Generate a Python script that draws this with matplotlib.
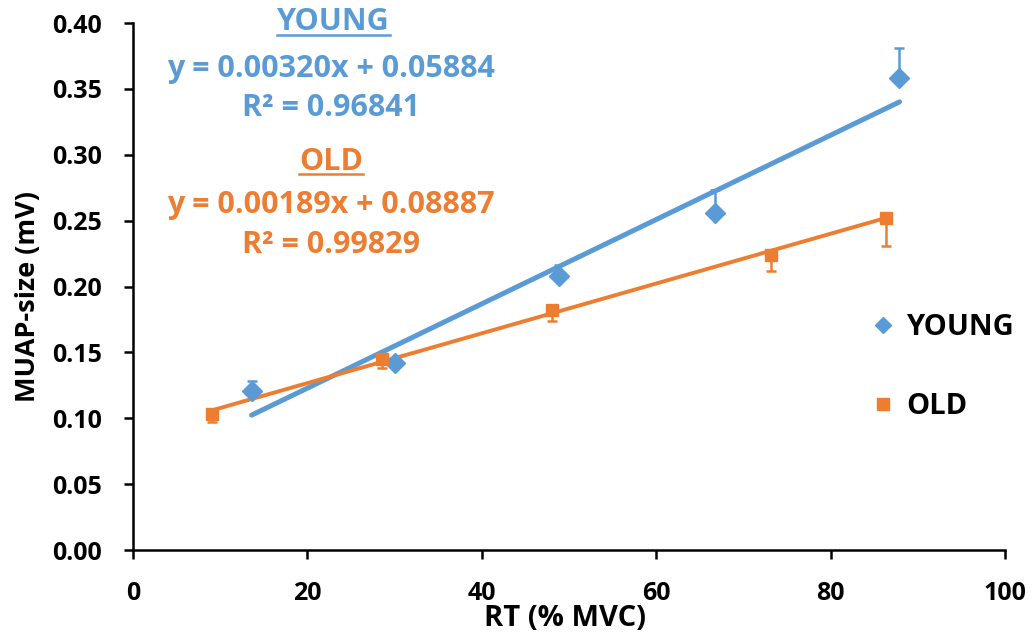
import numpy as np
import matplotlib
matplotlib.use('Agg')
from matplotlib import pyplot as plt
from matplotlib.lines import Line2D

plt.rcParams['font.family'] = ['Open Sans', 'DejaVu Sans']
plt.rcParams['font.weight'] = 'bold'

# data
young_x = [13.6, 30.1, 48.8, 66.7, 87.9]
young_y = [0.121, 0.142, 0.208, 0.256, 0.358]
young_err = [0.007, 0.004, 0.008, 0.017, 0.023]   # upper bars only

old_x = [9.1, 28.6, 48.0, 73.2, 86.4]
old_y = [0.103, 0.145, 0.182, 0.224, 0.252]
old_err = [0.006, 0.007, 0.008, 0.012, 0.021]     # lower bars only

young_fit = [0.00320, 0.05884]
old_fit = [0.00189, 0.08887]
young_r2 = '0.96841'
old_r2 = '0.99829'

blue = '#5B9BD5'
orange = '#ED7D31'

fig = plt.figure(figsize=(10.35, 6.41), dpi=100)
ax = fig.add_axes([133 / 1035, 1 - 550 / 641, 872 / 1035, 527 / 641])

# trendlines
xs = np.array([min(young_x), max(young_x)])
ax.plot(xs, young_fit[0] * xs + young_fit[1], color=blue, lw=3.6, solid_capstyle='round', zorder=2)
xs = np.array([min(old_x), max(old_x)])
ax.plot(xs, old_fit[0] * xs + old_fit[1], color=orange, lw=2.8, solid_capstyle='round', zorder=2)

# points with one-sided error bars
ax.errorbar(young_x, young_y, yerr=[np.zeros(5), young_err], fmt='D', color=blue, ms=10,
            elinewidth=1.8, capsize=3.5, capthick=1.8, zorder=3)
ax.errorbar(old_x, old_y, yerr=[old_err, np.zeros(5)], fmt='s', color=orange, ms=9,
            elinewidth=1.8, capsize=3.5, capthick=1.8, zorder=3)

ax.set_xlim(0, 100)
ax.set_ylim(0, 0.40)
ax.set_xticks(range(0, 101, 20))
ax.set_yticks(np.arange(0, 0.401, 0.05))
ax.set_yticklabels(['%.2f' % v for v in np.arange(0, 0.401, 0.05)])
ax.spines['top'].set_visible(False)
ax.spines['right'].set_visible(False)
for s in ['left', 'bottom']:
    ax.spines[s].set_linewidth(1.8)
ax.tick_params(direction='out', length=6.5, width=1.8, labelsize=18, pad=16)
for lbl in ax.get_xticklabels() + ax.get_yticklabels():
    lbl.set_fontweight('bold')

fig.text(565 / 1035, 1 - 618 / 641, 'RT (% MVC)', fontsize=21, fontweight='bold', ha='center', va='center')
fig.text(28 / 1035, 1 - 296 / 641, 'MUAP-size (mV)', fontsize=19.5, fontweight='bold', rotation=90,
         ha='center', va='center')

# equation annotations
fs = 22
txt = []
txt.append(fig.text(0.322, 0.965, 'YOUNG', color=blue, fontsize=fs, fontweight='bold', ha='center', va='center'))
fig.text(0.320, 0.893, 'y = %.5fx + %.5f' % (young_fit[0], young_fit[1]), color=blue,
         fontsize=fs, fontweight='bold', ha='center', va='center')
fig.text(0.320, 0.831, 'R² = ' + young_r2, color=blue, fontsize=fs, fontweight='bold', ha='center', va='center')
txt.append(fig.text(0.320, 0.748, 'OLD', color=orange, fontsize=fs, fontweight='bold', ha='center', va='center'))
fig.text(0.320, 0.680, 'y = %.5fx + %.5f' % (old_fit[0], old_fit[1]), color=orange,
         fontsize=fs, fontweight='bold', ha='center', va='center')
fig.text(0.320, 0.618, 'R² = ' + old_r2, color=orange, fontsize=fs, fontweight='bold', ha='center', va='center')

# underline the group titles
fig.canvas.draw()
r = fig.canvas.get_renderer()
for t in txt:
    bb = t.get_window_extent(r).transformed(fig.transFigure.inverted())
    fig.add_artist(Line2D([bb.x0, bb.x1], [bb.y0 + 0.004, bb.y0 + 0.004], color=t.get_color(),
                          lw=1.8, transform=fig.transFigure))

handles = [Line2D([], [], ls='none', marker='D', ms=8, color=blue),
           Line2D([], [], ls='none', marker='s', ms=8, color=orange)]
ax.legend(handles, ['YOUNG', 'OLD'], loc='center left', bbox_to_anchor=(871 / 1035, 1 - 367 / 641),
          bbox_transform=fig.transFigure, frameon=False, fontsize=21, borderpad=0, borderaxespad=0,
          handletextpad=0.4, labelspacing=1.7, handlelength=0.8)

fig.savefig('out.png', dpi=100)
